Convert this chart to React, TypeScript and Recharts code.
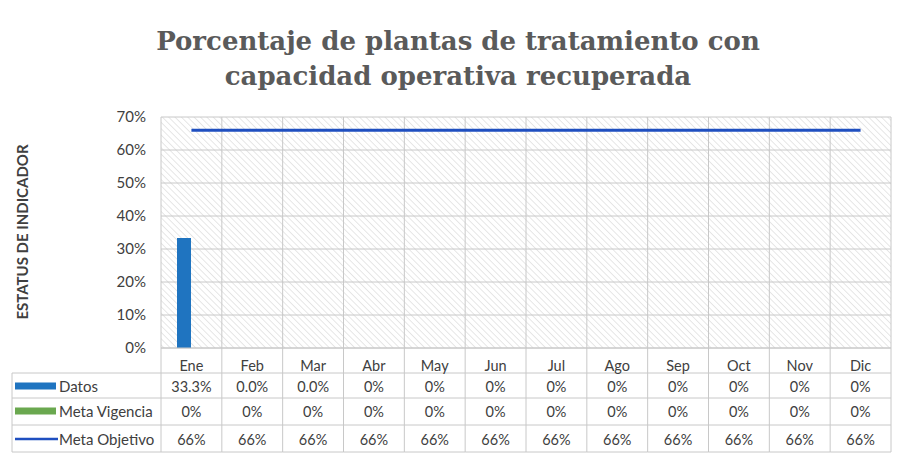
import React from "react";
import { ComposedChart, Bar, Line, XAxis, YAxis, CartesianGrid } from "recharts";

const months = ["Ene", "Feb", "Mar", "Abr", "May", "Jun", "Jul", "Ago", "Sep", "Oct", "Nov", "Dic"];
const datos = [33.3, 0, 0, 0, 0, 0, 0, 0, 0, 0, 0, 0];
const metaVigencia = [0, 0, 0, 0, 0, 0, 0, 0, 0, 0, 0, 0];
const metaObjetivo = [66, 66, 66, 66, 66, 66, 66, 66, 66, 66, 66, 66];
const datosLabels = ["33.3%", "0.0%", "0.0%", "0%", "0%", "0%", "0%", "0%", "0%", "0%", "0%", "0%"];
const vigenciaLabels = ["0%", "0%", "0%", "0%", "0%", "0%", "0%", "0%", "0%", "0%", "0%", "0%"];
const objetivoLabels = ["66%", "66%", "66%", "66%", "66%", "66%", "66%", "66%", "66%", "66%", "66%", "66%"];
const yTicks = [0, 10, 20, 30, 40, 50, 60, 70];
const seriesNames = ["Datos", "Meta Vigencia", "Meta Objetivo"];

const data = months.map((m, i) => ({
  month: m,
  datos: datos[i],
  metaVigencia: metaVigencia[i],
  metaObjetivo: metaObjetivo[i],
}));

const W = 904;
const H = 453;
const MARGIN = { top: 117, right: 13, bottom: 1, left: 101 };
const Y_W = 60;
const X_H = 104;
const PLOT_W = W - MARGIN.left - Y_W - MARGIN.right;
const BAND = PLOT_W / months.length;
const LEGEND_LEFT = 12;
const ROW_LINES = [25, 50, 77, 104];
const ROW_CENTERS = [17, 38, 63, 91];

const C_DATOS = "#1f74c0";
const C_VIG = "#6aa84f";
const C_OBJ = "#1f4fc0";
const GRID = "#c8c8c8";
const TXT = "#404040";
const FONT = "Lato, 'Noto Sans', sans-serif";
const TABLE_FS = 14.5;

function TableTick(props: any) {
  const { x, y, payload } = props;
  const i = months.indexOf(payload.value);
  const left = x - BAND / 2;
  const right = x + BAND / 2;
  const y0 = y;
  const vals = [datosLabels[i], vigenciaLabels[i], objetivoLabels[i]];
  return (
    <g>
      <line x1={left} x2={left} y1={y0} y2={y0 + ROW_LINES[3]} stroke={GRID} />
      {i === months.length - 1 && (
        <line x1={right} x2={right} y1={y0} y2={y0 + ROW_LINES[3]} stroke={GRID} />
      )}
      {ROW_LINES.map((r) => (
        <line key={r} x1={left} x2={right} y1={y0 + r} y2={y0 + r} stroke={GRID} />
      ))}
      <text x={x} y={y0 + ROW_CENTERS[0]} textAnchor="middle" dominantBaseline="central" fontSize={TABLE_FS} fill={TXT} fontFamily={FONT}>
        {payload.value}
      </text>
      {vals.map((v, k) => (
        <text key={k} x={x} y={y0 + ROW_CENTERS[k + 1]} textAnchor="middle" dominantBaseline="central" fontSize={TABLE_FS} fill={TXT} fontFamily={FONT}>
          {v}
        </text>
      ))}
      {i === 0 && (
        <g>
          <line x1={LEGEND_LEFT} x2={LEGEND_LEFT} y1={y0 + ROW_LINES[0]} y2={y0 + ROW_LINES[3]} stroke={GRID} />
          {ROW_LINES.map((r) => (
            <line key={"l" + r} x1={LEGEND_LEFT} x2={left} y1={y0 + r} y2={y0 + r} stroke={GRID} />
          ))}
          <rect x={LEGEND_LEFT + 3} y={y0 + ROW_CENTERS[1] - 3.5} width={41} height={7} fill={C_DATOS} />
          <rect x={LEGEND_LEFT + 3} y={y0 + ROW_CENTERS[2] - 3.5} width={41} height={7} fill={C_VIG} />
          <line x1={LEGEND_LEFT + 3} x2={LEGEND_LEFT + 46} y1={y0 + ROW_CENTERS[3]} y2={y0 + ROW_CENTERS[3]} stroke={C_OBJ} strokeWidth={2.5} />
          {seriesNames.map((s, k) => (
            <text key={s} x={LEGEND_LEFT + 47} y={y0 + ROW_CENTERS[k + 1]} dominantBaseline="central" fontSize={15} fill={TXT} fontFamily={FONT}>
              {s}
            </text>
          ))}
        </g>
      )}
    </g>
  );
}

export default function App() {
  return (
    <div style={{ position: "absolute", left: 0, top: 0, width: W, height: H, background: "#fff" }}>
      <div
        style={{
          position: "absolute",
          left: 0,
          top: 24,
          width: 916,
          textAlign: "center",
          fontFamily: "'DejaVu Serif', serif",
          fontWeight: "bold",
          fontSize: 26,
          lineHeight: "35px",
          color: "#5a5a5a",
        }}
      >
        Porcentaje de plantas de tratamiento con
        <br />
        capacidad operativa recuperada
      </div>
      <div
        style={{
          position: "absolute",
          left: 22,
          top: 232,
          transform: "translate(-50%, -50%) rotate(-90deg)",
          whiteSpace: "nowrap",
          fontFamily: FONT,
          fontWeight: "bold",
          fontSize: 15,
          color: TXT,
        }}
      >
        ESTATUS DE INDICADOR
      </div>
      <ComposedChart
        width={W}
        height={H}
        data={data}
        margin={MARGIN}
        barGap={0}
        barSize={14}
        style={{ position: "absolute", left: 0, top: 0 }}
      >
        <defs>
          <pattern id="hatch" patternUnits="userSpaceOnUse" width={4.5} height={4.5} patternTransform="rotate(-45)">
            <rect width={4.5} height={4.5} fill="#ffffff" />
            <line x1={0} y1={0} x2={0} y2={4.5} stroke="#d4d4d4" strokeWidth={1.1} />
          </pattern>
        </defs>
        <CartesianGrid
          fill="url(#hatch)"
          stroke={GRID}
          verticalCoordinatesGenerator={({ offset }: any) =>
            Array.from({ length: months.length + 1 }, (_, k) => offset.left + (offset.width * k) / months.length)
          }
        />
        <XAxis
          dataKey="month"
          height={X_H}
          tickLine={false}
          tickSize={0}
          tickMargin={0}
          axisLine={{ stroke: GRID }}
          tick={<TableTick />}
          interval={0}
        />
        <YAxis
          width={Y_W}
          domain={[0, 70]}
          ticks={yTicks}
          tickFormatter={(v: number) => `${v}%`}
          axisLine={false}
          tickLine={false}
          tick={{ fontSize: 15, fill: TXT, fontFamily: FONT }}
          tickMargin={9}
        />
        <Bar dataKey="datos" name="Datos" fill={C_DATOS} isAnimationActive={false} />
        <Bar dataKey="metaVigencia" name="Meta Vigencia" fill={C_VIG} isAnimationActive={false} />
        <Line
          dataKey="metaObjetivo"
          name="Meta Objetivo"
          stroke={C_OBJ}
          strokeWidth={3}
          dot={false}
          type="linear"
          isAnimationActive={false}
        />
      </ComposedChart>
    </div>
  );
}
